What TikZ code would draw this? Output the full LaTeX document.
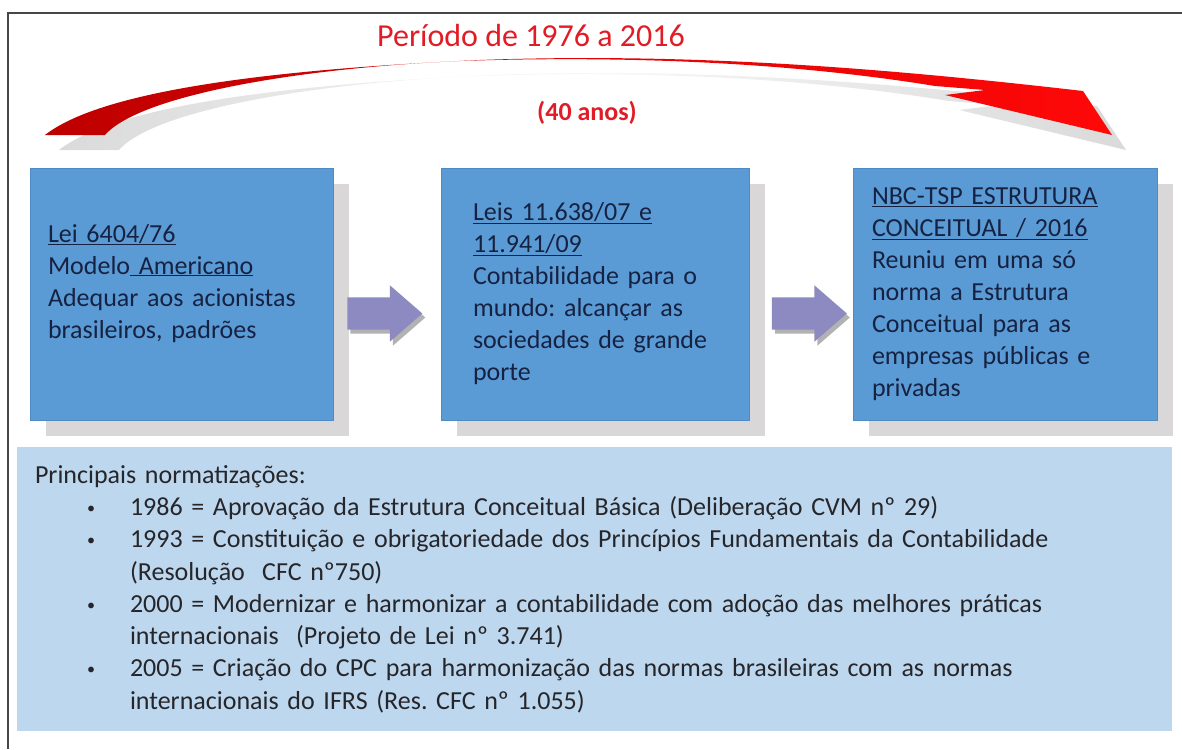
\documentclass[tikz,border=0pt]{standalone}
\usepackage{fontspec}
\setmainfont{Carlito}
\usepackage{tikz}
\usetikzlibrary{positioning,shapes.arrows,shadows}
\frenchspacing

\definecolor{boxblue}{RGB}{91,155,213}
\definecolor{boxedge}{RGB}{78,138,198}
\definecolor{boxshade}{RGB}{217,215,215}
\definecolor{normblue}{RGB}{189,215,238}
\definecolor{navytext}{RGB}{22,34,66}
\definecolor{darktext}{RGB}{38,38,42}
\definecolor{lilac}{RGB}{140,138,192}
\definecolor{titlered}{RGB}{226,28,38}
\definecolor{tailred}{RGB}{190,0,0}
\definecolor{headred}{RGB}{255,8,8}
\definecolor{swooshgray}{RGB}{218,218,218}
\definecolor{framegray}{RGB}{70,70,70}

\newcommand{\swooshpath}{(45,135) .. controls (100,92) and (260,70) .. (480,60)
  .. controls (700,52) and (900,70) .. (1083,91) -- (1112,135) -- (945,95)
  -- (985,90) -- (935,86) .. controls (800,64) and (640,55) .. (460,61)
  .. controls (300,68) and (140,95) .. (105,135) -- cycle}
\newcommand{\normitem}{\hspace*{52pt}\makebox[43pt][l]{\raisebox{2pt}{\scalebox{0.62}{\textbullet}}}}
\newcommand{\normcont}{\hspace*{95pt}}

\tikzset{
    lawbox/.style={
           rectangle,
           fill=boxblue,
           draw=boxedge, line width=0.8pt,
           minimum height=252pt,
           inner ysep=4pt,
           align=left,
           text=navytext,
           font=\fontsize{26}{32}\selectfont,
           drop shadow={shadow xshift=16pt, shadow yshift=-16pt, fill=boxshade, opacity=1},
           },
    flowarrow/.style={
           single arrow,
           fill=lilac,
           minimum height=75pt,
           minimum width=56pt,
           single arrow head extend=12pt,
           single arrow tip angle=82,
           inner xsep=0pt,
           inner ysep=16pt,
           drop shadow={shadow xshift=3pt, shadow yshift=-4pt, fill=black!30, opacity=1},
           },
    normbox/.style={
           rectangle,
           fill=normblue,
           minimum width=1155pt,
           minimum height=284pt,
           text width=1119pt,
           inner xsep=18pt,
           align=left,
           text=darktext,
           font=\fontsize{26}{32.3}\selectfont,
           },
}

\begin{document}
\begin{tikzpicture}[x=1pt,y=-1pt]
 \useasboundingbox (0,0) rectangle (1182,749);

 % frame of the page
 \draw[framegray, line width=1.6pt] (8,749) -- (8,13) -- (1182,13);

 % red swoosh over the boxes
 \shade[left color=swooshgray, right color=swooshgray, middle color=white!80!swooshgray,
  shift={(14,15)}] \swooshpath;
 \shade[left color=tailred, right color=headred] \swooshpath;

 \node[text=titlered,
  font=\fontsize{32}{38}\selectfont,
  anchor=base] (Periodo) at (531,47)
 {Período de 1976 a 2016};

 \node[text=titlered,
  font=\fontsize{26}{32}\selectfont\bfseries,
  anchor=base] (Anos) at (587,121)
 {(40 anos)};

 % the three laws
 \node[lawbox,
  text width=267pt,
  inner xsep=18pt] (Lei) at (181.5,294)
 {\underline{Lei 6404/76}\\
  Modelo\underline{\ Americano}\\
  Adequar aos acionistas\\
  brasileiros, padrões\\[-6pt]\mbox{}};

 \node[lawbox,
  right of=Lei,
  node distance=413.5pt,
  anchor=center,
  text width=244pt,
  inner xsep=32pt] (Leis)
 {\underline{Leis 11.638/07 e}\\
  \underline{11.941/09}\\
  Contabilidade para o\\
  mundo: alcançar as\\
  sociedades de grande\\
  porte};

 \node[lawbox,       % same look as the others
  right of=Leis,
  node distance=410pt,
  anchor=center,
  text width=266pt,
  inner xsep=19pt] (NBC)
 {\underline{NBC-TSP ESTRUTURA}\\
  \underline{CONCEITUAL / 2016}\\
  Reuniu em uma só\\
  norma a Estrutura\\
  Conceitual para as\\
  empresas públicas e\\
  privadas};

 % block arrows between the boxes
 \node[flowarrow,
  right of=Lei,
  node distance=194pt,
  yshift=-19.5pt,
  anchor=center] (LeiLeis) {};

 \node[flowarrow,
  right of=Leis,
  node distance=205pt,
  yshift=-19.5pt,
  anchor=center] (LeisNBC) {};

 % list of the main norms
 \node[normbox] (Normas) at (594.5,589)
 {Principais normatizações:\\
  \normitem 1986 = Aprovação da Estrutura Conceitual Básica (Deliberação CVM nº 29)\\
  \normitem 1993 = Constituição e obrigatoriedade dos Princípios Fundamentais da Contabilidade\\
  \normcont (Resolução~ CFC nº750)\\
  \normitem 2000 = Modernizar e harmonizar a contabilidade com adoção das melhores práticas\\
  \normcont internacionais~ (Projeto de Lei nº 3.741)\\
  \normitem 2005 = Criação do CPC para harmonização das normas brasileiras com as normas\\
  \normcont internacionais do IFRS (Res. CFC nº 1.055)};

\end{tikzpicture}
\end{document}
